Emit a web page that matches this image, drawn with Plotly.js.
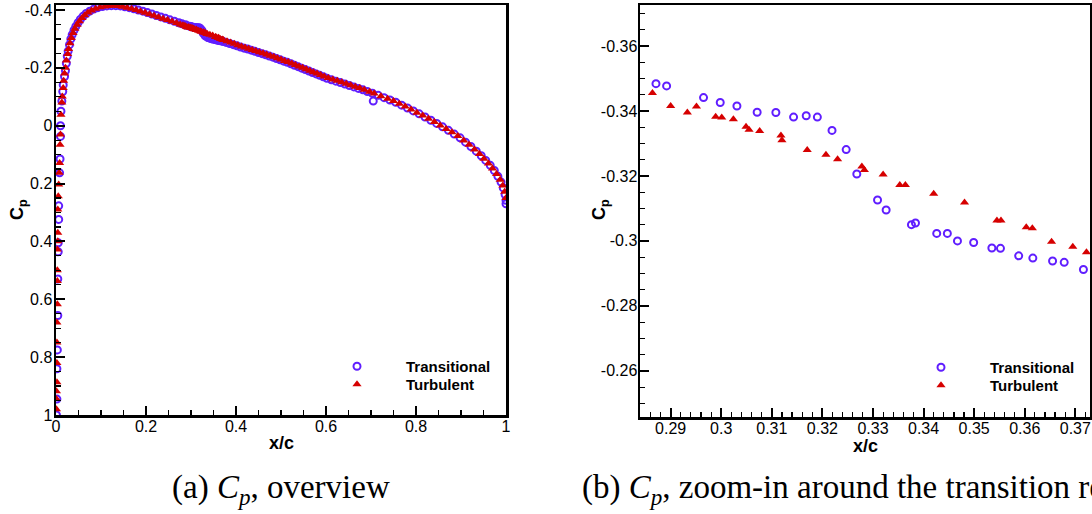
<!DOCTYPE html>
<html>
<head>
<meta charset="utf-8">
<script src="https://cdn.plot.ly/plotly-3.0.1.min.js"></script>
<style>html,body{margin:0;padding:0;background:#fff;}#chart{width:1092px;height:514px;}</style>
</head>
<body>
<div id="chart"></div>
<script>
// ---- Transitional (open circles): x/c and Cp ----
const transX = [
  0.001,0.002,0.002,0.003,0.004,0.004,0.005,0.005,0.006,0.006,0.008,0.009,0.010,
  0.010,0.011,0.013,0.015,0.016,0.019,0.021,0.023,0.025,0.027,0.030,0.033,0.036,0.040,0.044,0.049,0.054,0.060,0.067,0.075,0.084,0.093,0.103,0.113,0.123,0.133,0.143,0.153,0.163,0.173,0.183,0.193,0.203,0.213,0.223,0.233,0.243,0.253,0.263,0.273,0.280,
  0.2871,0.2892,0.2965,0.2998,0.3031,0.3071,0.3108,0.3143,0.3168,0.3190,0.3219,0.3247,0.3268,0.3309,0.3326,0.3376,0.3384,0.3426,0.3447,0.3467,0.3499,0.3535,0.3552,0.3588,0.3616,0.3655,0.3678,0.3716,
  0.378,0.386,0.394,0.402,0.410,0.418,0.426,0.434,0.442,0.450,0.458,0.466,0.474,0.482,0.490,0.498,0.506,0.514,0.522,0.530,0.538,0.546,0.554,0.562,0.570,0.578,0.586,0.594,0.602,0.612,0.622,0.632,0.642,0.652,0.662,0.672,0.682,0.692,0.705,0.703,0.716,0.729,0.742,0.755,0.768,0.781,0.794,0.807,0.820,0.833,0.846,0.859,0.872,0.885,0.898,0.910,0.922,0.934,0.945,0.955,0.965,0.974,0.982,0.989,0.994,0.998,1.000,1.000
];
const transCp = [
  1.000,0.945,0.840,0.775,0.656,0.530,0.436,0.405,0.324,0.277,0.163,0.115,0.037,
  0.000,-0.050,-0.085,-0.118,-0.141,-0.170,-0.190,-0.216,-0.240,-0.258,-0.280,-0.300,-0.315,-0.330,-0.343,-0.356,-0.367,-0.378,-0.388,-0.396,-0.403,-0.408,-0.412,-0.414,-0.415,-0.415,-0.414,-0.411,-0.408,-0.404,-0.400,-0.396,-0.391,-0.386,-0.381,-0.376,-0.371,-0.366,-0.361,-0.356,-0.352,
  -0.3484,-0.3477,-0.3441,-0.3426,-0.3415,-0.3396,-0.3395,-0.3381,-0.3385,-0.3381,-0.3340,-0.3281,-0.3206,-0.3126,-0.3095,-0.3050,-0.3055,-0.3023,-0.3023,-0.3000,-0.2995,-0.2978,-0.2977,-0.2954,-0.2947,-0.2938,-0.2934,-0.2912,
  -0.288,-0.284,-0.280,-0.276,-0.272,-0.268,-0.265,-0.261,-0.257,-0.253,-0.249,-0.245,-0.241,-0.237,-0.232,-0.228,-0.223,-0.219,-0.214,-0.209,-0.204,-0.199,-0.194,-0.189,-0.184,-0.179,-0.174,-0.169,-0.164,-0.159,-0.154,-0.149,-0.144,-0.139,-0.134,-0.129,-0.124,-0.118,-0.085,-0.112,-0.105,-0.097,-0.089,-0.081,-0.071,-0.061,-0.051,-0.041,-0.030,-0.019,-0.008,0.004,0.016,0.029,0.042,0.057,0.072,0.088,0.104,0.120,0.137,0.155,0.175,0.195,0.215,0.238,0.258,0.270
];
// ---- Turbulent (filled triangles): x/c and Cp ----
const turbX = [
  0.001,0.001,0.001,0.002,0.002,0.002,0.002,0.003,0.003,0.003,0.003,0.004,0.004,0.004,0.005,0.006,0.007,0.008,0.009,0.010,
  0.011,0.013,0.014,0.016,0.017,0.019,0.021,0.023,0.026,0.028,0.031,0.034,0.038,0.042,0.047,0.052,0.058,0.064,0.071,0.079,0.088,0.098,0.108,0.118,0.128,0.138,0.148,0.158,0.168,0.178,0.188,0.198,0.208,0.218,0.228,0.238,0.248,0.258,0.268,0.276,0.282,
  0.2864,0.2900,0.2933,0.2951,0.2989,0.3001,0.3024,0.3049,0.3055,0.3076,0.3118,0.3120,0.3170,0.3207,0.3230,0.3278,0.3283,0.3320,0.3353,0.3364,0.3420,0.3481,0.3545,0.3553,0.3603,0.3615,0.3653,0.3695,0.3722,
  0.380,0.388,0.396,0.404,0.412,0.420,0.428,0.436,0.444,0.452,0.460,0.468,0.476,0.484,0.492,0.500,0.508,0.516,0.524,0.532,0.540,0.548,0.556,0.564,0.572,0.580,0.588,0.596,0.605,0.615,0.625,0.635,0.645,0.655,0.665,0.675,0.685,0.697,0.707,0.722,0.737,0.750,0.763,0.776,0.789,0.802,0.815,0.828,0.841,0.854,0.867,0.880,0.893,0.906,0.918,0.930,0.941,0.951,0.961,0.970,0.979,0.987,0.993,0.997,1.000
];
const turbCp = [
  0.980,0.945,0.918,0.887,0.820,0.749,0.680,0.617,0.537,0.500,0.428,0.399,0.370,0.290,0.244,0.203,0.163,0.129,0.066,0.030,
  -0.038,-0.080,-0.101,-0.130,-0.155,-0.180,-0.200,-0.225,-0.248,-0.265,-0.285,-0.303,-0.320,-0.335,-0.349,-0.361,-0.372,-0.382,-0.391,-0.398,-0.404,-0.409,-0.412,-0.414,-0.415,-0.414,-0.411,-0.408,-0.404,-0.400,-0.395,-0.390,-0.385,-0.380,-0.375,-0.370,-0.365,-0.360,-0.355,-0.350,-0.347,
  -0.3455,-0.3415,-0.3395,-0.3414,-0.3382,-0.3380,-0.3374,-0.3351,-0.3342,-0.3338,-0.3324,-0.3310,-0.3280,-0.3265,-0.3251,-0.3229,-0.3218,-0.3204,-0.3172,-0.3172,-0.3145,-0.3118,-0.3063,-0.3063,-0.3042,-0.3039,-0.2997,-0.2982,-0.2965,
  -0.292,-0.288,-0.283,-0.278,-0.274,-0.270,-0.266,-0.262,-0.258,-0.254,-0.250,-0.246,-0.242,-0.238,-0.233,-0.229,-0.224,-0.220,-0.215,-0.210,-0.205,-0.200,-0.195,-0.190,-0.185,-0.180,-0.175,-0.170,-0.165,-0.160,-0.155,-0.150,-0.145,-0.140,-0.135,-0.130,-0.124,-0.117,-0.111,-0.102,-0.093,-0.085,-0.076,-0.066,-0.056,-0.045,-0.035,-0.024,-0.013,-0.001,0.011,0.023,0.036,0.051,0.066,0.082,0.098,0.114,0.131,0.148,0.167,0.187,0.207,0.228,0.250
];
// ---- tick labels ----
const ovXTicks = [0,0.2,0.4,0.6,0.8,1];
const ovXLabels = ['0','0.2','0.4','0.6','0.8','1'];
const ovYTicks = [-0.4,-0.2,0,0.2,0.4,0.6,0.8,1];
const ovYLabels = ['-0.4','-0.2','0','0.2','0.4','0.6','0.8','1'];
const zmXTicks = [0.29,0.30,0.31,0.32,0.33,0.34,0.35,0.36,0.37];
const zmXLabels = ['0.29','0.3','0.31','0.32','0.33','0.34','0.35','0.36','0.37'];
const zmYTicks = [-0.36,-0.34,-0.32,-0.30,-0.28,-0.26];
const zmYLabels = ['-0.36','-0.34','-0.32','-0.3','-0.28','-0.26'];
const seriesNames = ['Transitional','Turbulent'];

const W = 1092, H = 514;
const px = v => v / W, py = v => (H - v) / H;
const circ = {symbol:'circle-open', size:7, color:'rgb(96,30,255)', line:{width:2, color:'rgb(96,30,255)'}};
const tri = {symbol:'triangle-up', size:8, color:'rgb(214,0,0)'};

const traces = [
  {x:transX, y:transCp, xaxis:'x', yaxis:'y', mode:'markers', name:seriesNames[0], marker:circ, legend:'legend'},
  {x:turbX, y:turbCp, xaxis:'x', yaxis:'y', mode:'markers', name:seriesNames[1], marker:tri, legend:'legend2'},
  {x:transX, y:transCp, xaxis:'x2', yaxis:'y2', mode:'markers', name:seriesNames[0], marker:circ, legend:'legend3'},
  {x:turbX, y:turbCp, xaxis:'x2', yaxis:'y2', mode:'markers', name:seriesNames[1], marker:tri, legend:'legend4'}
];

const tickFont = {family:'Liberation Sans, Arial, sans-serif', size:16, color:'black'};
function axis(extra, minorDtick, standoff){
  return Object.assign({
    showline:true, linecolor:'black', linewidth:2.5, mirror:true,
    ticks:'inside', ticklen:9, tickwidth:2, tickcolor:'black',
    showgrid:false, zeroline:false, tickmode:'array', tickfont:tickFont,
    automargin:false, ticklabelstandoff:standoff,
    minor:{ticks:'inside', ticklen:5, tickwidth:1.2, tickcolor:'black', tickmode:'linear', tick0:0, dtick:minorDtick, showgrid:false}
  }, extra);
}

function legendAt(xPix, yPix){
  return {
    xref:'paper', yref:'paper', xanchor:'left', yanchor:'top', x:px(xPix), y:py(yPix),
    bgcolor:'rgba(0,0,0,0)', borderwidth:0, itemwidth:88, tracegroupgap:0,
    font:{family:'Liberation Sans, Arial, sans-serif', size:15, color:'black', weight:'bold'}
  };
}

const titleFont = {family:'Liberation Sans, Arial, sans-serif', size:18, color:'black'};
const capFont = {family:'Liberation Serif, serif', size:33, color:'black'};

const layout = {
  width:W, height:H, margin:{l:0, r:0, t:0, b:0, autoexpand:false},
  paper_bgcolor:'white', plot_bgcolor:'white', showlegend:true,
  xaxis: axis({domain:[px(56), px(506)], range:[0,1], anchor:'y', tickvals:ovXTicks, ticktext:ovXLabels}, 0.05, -5),
  yaxis: axis({domain:[py(415), py(5)], range:[1,-0.4172], anchor:'x', tickvals:ovYTicks, ticktext:ovYLabels}, 0.05, -2),
  xaxis2: axis({domain:[px(640), px(1090)], range:[0.28394,0.3729], anchor:'y2', tickvals:zmXTicks, ticktext:zmXLabels}, 0.002, -5),
  yaxis2: axis({domain:[py(417), py(5)], range:[-0.2458,-0.3726], anchor:'x2', tickvals:zmYTicks, ticktext:zmYLabels}, 0.005, -3),
  legend: legendAt(308, 350),
  legend2: legendAt(308, 368),
  legend3: legendAt(892, 351),
  legend4: legendAt(892, 369),
  annotations:[
    {xref:'paper', yref:'paper', x:px(281), y:py(443), text:'<b>x/c</b>', showarrow:false, font:titleFont, xanchor:'center', yanchor:'middle'},
    {xref:'paper', yref:'paper', x:px(865), y:py(446), text:'<b>x/c</b>', showarrow:false, font:titleFont, xanchor:'center', yanchor:'middle'},
    {xref:'paper', yref:'paper', x:px(18), y:py(210), text:'<b>C<sub>p</sub></b>', showarrow:false, font:titleFont, textangle:-90, xanchor:'center', yanchor:'middle'},
    {xref:'paper', yref:'paper', x:px(600), y:py(210), text:'<b>C<sub>p</sub></b>', showarrow:false, font:titleFont, textangle:-90, xanchor:'center', yanchor:'middle'},
    {xref:'paper', yref:'paper', x:px(281), y:py(490), text:'(a) <i>C<sub>p</sub></i>, overview', showarrow:false, font:capFont, xanchor:'center', yanchor:'middle'},
    {xref:'paper', yref:'paper', x:px(580), y:py(490), text:'(b) <i>C<sub>p</sub></i>, zoom-in around the transition region', showarrow:false, font:capFont, xanchor:'left', yanchor:'middle'}
  ]
};

Plotly.newPlot('chart', traces, layout, {displayModeBar:false, staticPlot:true});
</script>
</body>
</html>
